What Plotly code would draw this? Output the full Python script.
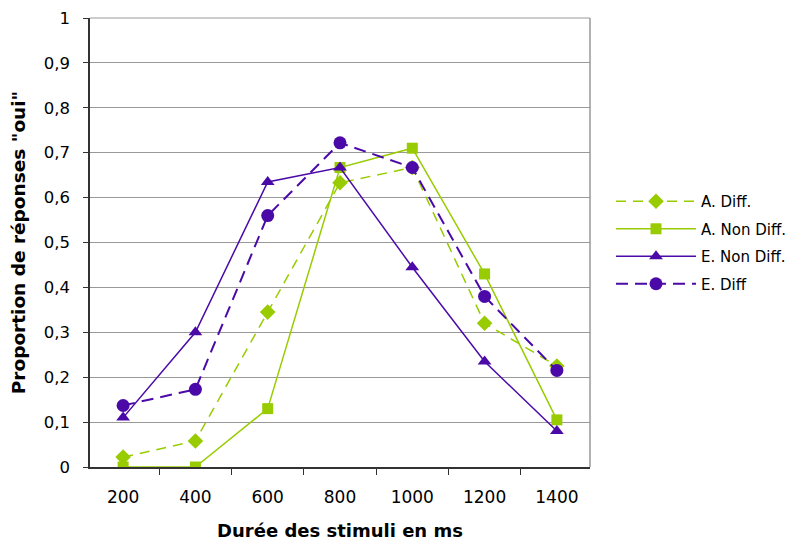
import plotly.graph_objects as go

durations = ["200", "400", "600", "800", "1000", "1200", "1400"]
a_diff = [0.022, 0.058, 0.345, 0.633, 0.667, 0.32, 0.225]
a_non_diff = [0.0, 0.0, 0.13, 0.667, 0.71, 0.43, 0.105]
e_non_diff = [0.11, 0.30, 0.635, 0.667, 0.445, 0.235, 0.08]
e_diff = [0.137, 0.173, 0.56, 0.722, 0.667, 0.38, 0.215]
y_ticks = [0, 0.1, 0.2, 0.3, 0.4, 0.5, 0.6, 0.7, 0.8, 0.9, 1]

GREEN = "#99CC00"
PURPLE = "#4B0AA8"

fig = go.Figure()
fig.add_trace(go.Scatter(x=durations, y=a_diff, name="A. Diff.", mode="lines+markers",
                         legendgroup="g1",
                         line=dict(color=GREEN, width=1.5, dash="10px,7px"),
                         marker=dict(symbol="diamond", size=12, color=GREEN)))
fig.add_trace(go.Scatter(x=durations, y=a_non_diff, name="A. Non Diff.", mode="lines+markers",
                         legendgroup="g2",
                         line=dict(color=GREEN, width=1.5),
                         marker=dict(symbol="square", size=11, color=GREEN)))
fig.add_trace(go.Scatter(x=durations, y=e_non_diff, name="E. Non Diff.", mode="lines+markers",
                         legendgroup="g3",
                         line=dict(color=PURPLE, width=1.5),
                         marker=dict(symbol="triangle-up", size=12, color=PURPLE)))
fig.add_trace(go.Scatter(x=durations, y=e_diff, name="E. Diff", mode="lines+markers",
                         legendgroup="g4",
                         line=dict(color=PURPLE, width=2, dash="12px,7px"),
                         marker=dict(symbol="circle", size=13, color=PURPLE)))

fig.update_layout(
    width=794, height=535,
    margin=dict(l=82, r=210, t=10, b=76),
    paper_bgcolor="white", plot_bgcolor="white",
    separators=", ",
    font=dict(family="DejaVu Sans", size=17, color="black"),
    legend=dict(x=1.042, y=0.628, xanchor="left", yanchor="top",
                font=dict(size=15), itemwidth=80, tracegroupgap=5,
                borderwidth=0, bgcolor="rgba(0,0,0,0)"),
    xaxis=dict(type="category", tickson="boundaries", ticks="outside", ticklen=6,
               tickcolor="#333", showline=True, linecolor="#333", linewidth=1.5,
               showgrid=False, automargin=False, ticklabelstandoff=14,
               title=dict(text="<b>Durée des stimuli en ms</b>", font=dict(size=18), standoff=18)),
    yaxis=dict(range=[0, 1], tickvals=y_ticks, ticks="outside", ticklen=5,
               tickcolor="#333", showline=True, linecolor="#333", linewidth=1.5,
               showgrid=True, gridcolor="#999", gridwidth=1, zeroline=False,
               automargin=False, ticklabelstandoff=10, ticklabeloverflow="allow",
               tickfont=dict(size=16.5),
               title=dict(text="<b>Proportion de réponses \"oui\"</b>", font=dict(size=18.5), standoff=17)),
)
fig.add_shape(type="line", xref="paper", yref="paper", x0=1, x1=1, y0=0, y1=1,
              line=dict(color="#999", width=1.5))
fig.add_shape(type="line", xref="paper", yref="paper", x0=0, x1=1, y0=1, y1=1,
              line=dict(color="#999", width=1))

fig.write_html("out.html")
